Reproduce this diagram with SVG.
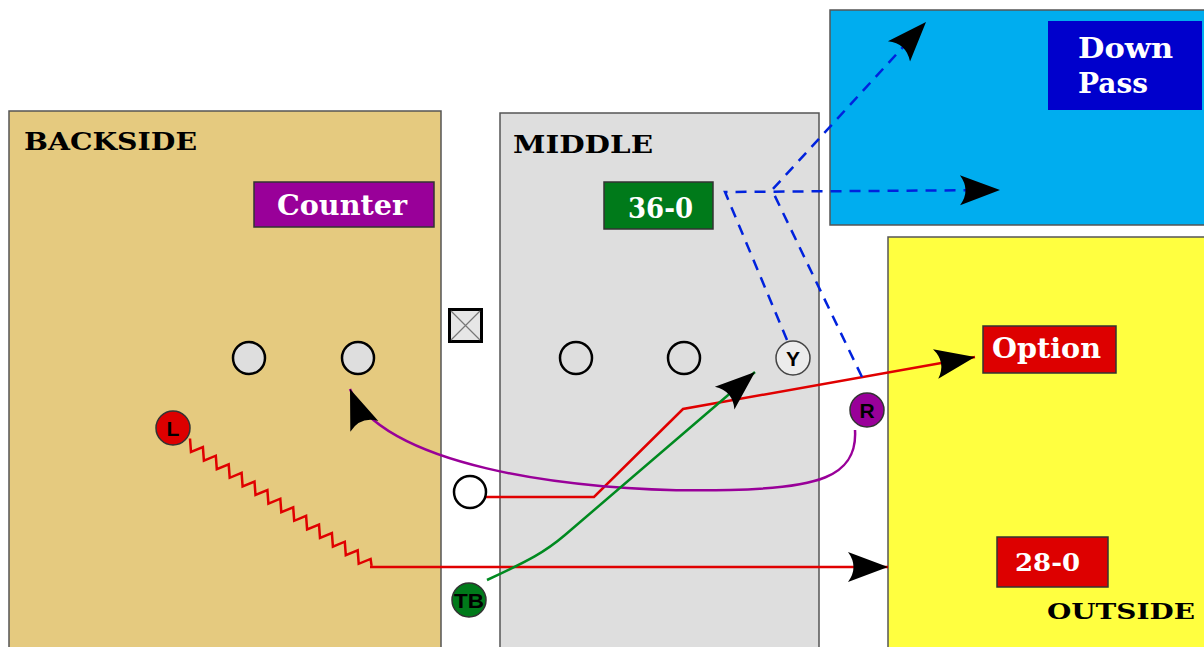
<svg xmlns="http://www.w3.org/2000/svg" width="1204" height="647" viewBox="0 0 1204 647">
<style>
.zone{stroke:#555;stroke-width:1.5}
.hdr{font-family:"DejaVu Serif",serif;font-weight:bold;fill:#000}
.lbl{font-family:"DejaVu Serif",serif;font-weight:bold;fill:#fff}
.box{stroke:#333;stroke-width:1.5}
.pl{stroke:#000;stroke-width:2.5}
.pt{font-family:"Liberation Sans",Arial,sans-serif;font-weight:bold;font-size:21px;fill:#000;text-anchor:middle}
.route{fill:none;stroke-width:2.5}
.dash{fill:none;stroke:#0022dd;stroke-width:2.5;stroke-dasharray:11 8}
</style>
<defs>
<marker id="ah" markerUnits="userSpaceOnUse" markerWidth="46" markerHeight="34" viewBox="0 0 46 34" refX="42" refY="16" orient="auto">
<path d="M42,16 L2,1 Q13,16 2,31 Z" fill="#000"/>
</marker>
</defs>
<rect width="1204" height="647" fill="#fff"/>
<g id="backside">
<rect class="zone" x="9" y="111" width="432" height="545" fill="#e5ca7f"/>
<text class="hdr" x="24" y="150" font-size="25" textLength="173" lengthAdjust="spacingAndGlyphs">BACKSIDE</text>
</g>
<g id="middle">
<rect class="zone" x="500" y="113" width="319" height="545" fill="#dedede"/>
<text class="hdr" x="513" y="153" font-size="25" textLength="140" lengthAdjust="spacingAndGlyphs">MIDDLE</text>
</g>
<g id="downpass-zone">
<rect class="zone" x="830" y="10" width="380" height="215" fill="#00adef"/>
</g>
<g id="outside">
<rect class="zone" x="888" y="237" width="322" height="420" fill="#ffff40"/>
<text class="hdr" x="1047" y="619" font-size="22" textLength="148" lengthAdjust="spacingAndGlyphs">OUTSIDE</text>
</g>
<g id="counter">
<rect class="box" x="254" y="182" width="180" height="45" fill="#990099"/>
<text class="lbl" x="277" y="215" font-size="27" textLength="130" lengthAdjust="spacingAndGlyphs">Counter</text>
</g>
<g id="play-36-0">
<rect class="box" x="604" y="182" width="109" height="47" fill="#007a1a"/>
<text class="lbl" x="628" y="218" font-size="27" textLength="65" lengthAdjust="spacingAndGlyphs">36-0</text>
</g>
<g id="downpass">
<rect x="1048" y="21" width="154" height="89" fill="#0000cc"/>
<text class="lbl" x="1078" y="58" font-size="27" textLength="95" lengthAdjust="spacingAndGlyphs">Down</text>
<text class="lbl" x="1078" y="93" font-size="27" textLength="70" lengthAdjust="spacingAndGlyphs">Pass</text>
</g>
<g id="option">
<rect class="box" x="983" y="326" width="133" height="47" fill="#dd0000"/>
<text class="lbl" x="992" y="358" font-size="27" textLength="109" lengthAdjust="spacingAndGlyphs">Option</text>
</g>
<g id="play-28-0">
<rect class="box" x="997" y="537" width="111" height="50" fill="#dd0000"/>
<text class="lbl" x="1015" y="571" font-size="25" textLength="65" lengthAdjust="spacingAndGlyphs">28-0</text>
</g>
<g id="connectors">
<path class="route" stroke="#e00000" d="M190,438.5 l1,13.5 l11.9,-4.9 l1,13.5 l11.9,-4.9 l1,13.5 l11.9,-4.9 l1,13.5 l11.9,-4.9 l1,13.5 l11.9,-4.9 l1,13.5 l11.9,-4.9 l1,13.5 l11.9,-4.9 l1,13.5 l11.9,-4.9 l1,13.5 l11.9,-4.9 l1,13.5 l11.9,-4.9 l1,13.5 l11.9,-4.9 l1,13.5 l11.9,-4.9 l1,13.5 l11.9,-4.9 l1,13.5 l11.9,-4.9 l1,7"/>
<path class="route" stroke="#e00000" d="M370,567 L888,567" marker-end="url(#ah)"/>
<path class="route" stroke="#e00000" d="M486,497 L594,497 L683,409 L975,357" marker-end="url(#ah)"/>
<path class="route" stroke="#990099" d="M855,430 C858,478 815,488 730,490 C560,494 378,462 350,389" marker-end="url(#ah)"/>
<path class="route" stroke="#008a20" d="M487,580 C530,560 545,552 565,535 L755,372" marker-end="url(#ah)"/>
<path class="dash" d="M787,340 L725,192 L1000,190" marker-end="url(#ah)"/>
<path class="dash" d="M862,377 L772,190 L926,22" marker-end="url(#ah)"/>
</g>
<g id="center-box">
<rect x="449.5" y="309.5" width="32" height="32" fill="#e6e6e6" stroke="#000" stroke-width="3"/>
<path d="M451,311 L480,340 M480,311 L451,340" stroke="#777" stroke-width="1.2"/>
</g>
<g id="lineman-1"><circle class="pl" cx="249" cy="358" r="16" fill="#dedede"/></g>
<g id="lineman-2"><circle class="pl" cx="358" cy="358" r="16" fill="#dedede"/></g>
<g id="lineman-3"><circle class="pl" cx="576" cy="358" r="16" fill="#dedede"/></g>
<g id="lineman-4"><circle class="pl" cx="684" cy="358" r="16" fill="#dedede"/></g>
<g id="player-y"><circle cx="793" cy="358" r="17" fill="#ececec" stroke="#444" stroke-width="1.5"/><text class="pt" x="793" y="366">Y</text></g>
<g id="player-r"><circle cx="867" cy="410" r="17" fill="#990099" stroke="#333" stroke-width="1.5"/><text class="pt" x="867" y="418">R</text></g>
<g id="player-l"><circle cx="173" cy="428" r="17" fill="#dd0000" stroke="#333" stroke-width="1.5"/><text class="pt" x="173" y="436">L</text></g>
<g id="ball"><circle class="pl" cx="470" cy="492" r="16" fill="#fff"/></g>
<g id="player-tb"><circle cx="469" cy="600" r="17" fill="#007a1a" stroke="#333" stroke-width="1.5"/><text class="pt" x="469" y="608" textLength="30" lengthAdjust="spacingAndGlyphs">TB</text></g>
</svg>
